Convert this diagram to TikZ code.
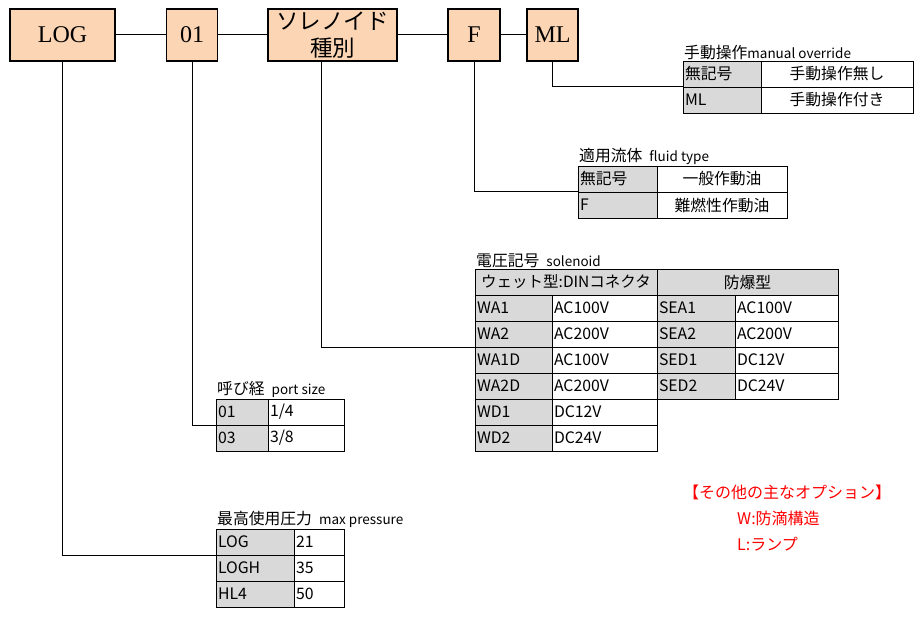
\documentclass[tikz,border=0pt]{standalone}
\usepackage{fontspec}
\setmainfont{Liberation Serif}
\newfontfamily\jp{Noto Sans CJK JP}
\usetikzlibrary{positioning}
\definecolor{codeorange}{HTML}{FCD5B4}
\definecolor{keygray}{HTML}{D9D9D9}
\definecolor{optred}{HTML}{FF0000}
\newcommand\tabfont{\jp\fontsize{15.8}{18}\selectfont}
\newcommand\latfont{\jp\fontsize{13.5}{15}\selectfont}

\begin{document}
\begin{tikzpicture}[x=1pt, y=-1pt,
node distance=0pt,
  code/.style = {rectangle, draw, fill=codeorange,% boxes of the model code
                 line width=1.2pt, minimum height=52pt,
                 outer sep=0pt, inner sep=1pt,
                 font=\fontsize{24}{26}\selectfont},
   key/.style = {rectangle, draw, fill=keygray,% cells of the tables
                 line width=0.8pt, minimum height=26pt,
                 text width=#1, inner xsep=2pt, inner ysep=1pt,
                 align=left, outer sep=0pt, font=\tabfont},
   val/.style = {key=#1, fill=white},
  valc/.style = {val=#1, align=center},
   ttl/.style = {anchor=south west, inner sep=1pt, font=\tabfont},
   opt/.style = {anchor=west, inner sep=0pt, text=optred,
                 font=\jp\fontsize{16}{18}\selectfont},
  link/.style = {line width=1pt},
                        ]
\useasboundingbox (0,0) rectangle (923,617);
% model code
\node[code, minimum width=105pt] (LOG) at (62.5,35) {LOG};
\node[code, minimum width=51pt] (size) at (192,35) {01};
\node[code, minimum width=129pt, align=center,
      font=\jp\fontsize{22.5}{27}\selectfont] (sol) at (332.5,35) {ソレノイド\\種別};
\node[code, minimum width=52pt] (fluid) at (474,35) {F};
\node[code, minimum width=51pt] (man) at (552.5,35) {ML};
\draw[link] (LOG) -- (size) -- (sol) -- (fluid) -- (man);
% manual override
\foreach \k/\v [count=\i] in {無記号/手動操作無し, ML/手動操作付き}{
    \node[key=74pt, anchor=north west] (mk\i) at (683,35+26*\i) {\k};
    \node[valc=148pt, right=of mk\i] (mv\i) {\v};
}
\node[ttl] (mt) at (mk1.north west) {手動操作{\latfont manual override}};
% fluid type
\foreach \k/\v [count=\i] in {無記号/一般作動油, F/難燃性作動油}{
    \node[key=75pt, anchor=north west] (fk\i) at (578,140+26*\i) {\k};
    \node[valc=126pt, right=of fk\i] (fv\i) {\v};
}
\node[ttl] (ft) at (fk1.north west) {適用流体\ \ {\latfont fluid type}};
% solenoid
\node[key=178pt, align=center, anchor=north west,
      font=\jp\fontsize{15.5}{18}\selectfont] (sh1) at (475,269) {ウェット型:DINコネクタ};
\node[key=177pt, align=center, right=of sh1] (sh2) {防爆型};
\foreach \a/\b/\c/\d [count=\i] in {WA1/AC100V/SEA1/AC100V, WA2/AC200V/SEA2/AC200V,
                                    WA1D/AC100V/SED1/DC12V, WA2D/AC200V/SED2/DC24V}{
    \node[key=73pt, anchor=north west] (sk\i) at (475,269+26*\i) {\a};
    \node[val=101pt, right=of sk\i] (sv\i) {\b};
    \node[key=74pt, right=of sv\i] (ek\i) {\c};
    \node[val=99pt, right=of ek\i] (ev\i) {\d};
}
\foreach \a/\b [count=\i from 5] in {WD1/DC12V, WD2/DC24V}{
    \node[key=73pt, anchor=north west] (sk\i) at (475,269+26*\i) {\a};
    \node[val=101pt, right=of sk\i] (sv\i) {\b};
}
\node[ttl] (st) at (sh1.north west) {電圧記号\ \ {\latfont solenoid}};
% port size
\foreach \k/\v [count=\i] in {01/{1/4}, 03/{3/8}}{
    \node[key=48pt, anchor=north west] (pk\i) at (216,373+26*\i) {\k};
    \node[val=72pt, right=of pk\i] (pv\i) {\v};
}
\node[ttl] (pt) at (pk1.north west) {呼び経\ \ {\latfont port size}};
% max pressure
\foreach \k/\v [count=\i] in {LOG/21, LOGH/35, HL4/50}{
    \node[key=74pt, anchor=north west] (prk\i) at (216,503+26*\i) {\k};
    \node[val=46pt, right=of prk\i] (prv\i) {\v};
}
\node[ttl] (prt) at (prk1.north west) {最高使用圧力\ \ {\latfont max pressure}};
% leaders
\draw[link] (LOG.south) |- (prk1.south west);
\draw[link] (size.south) |- (pk1.south west);
\draw[link] ([xshift=-11.5pt]sol.south) |- (sk2.south west);
\draw[link] (fluid.south) |- (fk1.south west);
\draw[link] (man.south) |- (mk1.south west);
% options
\node[opt] (opt0) at (683,492) {【その他の主なオプション】};
\node[opt] (optW) at (737,518) {W:防滴構造};
\node[opt] (optL) at (737,544) {L:ランプ};
\end{tikzpicture}
\end{document}
